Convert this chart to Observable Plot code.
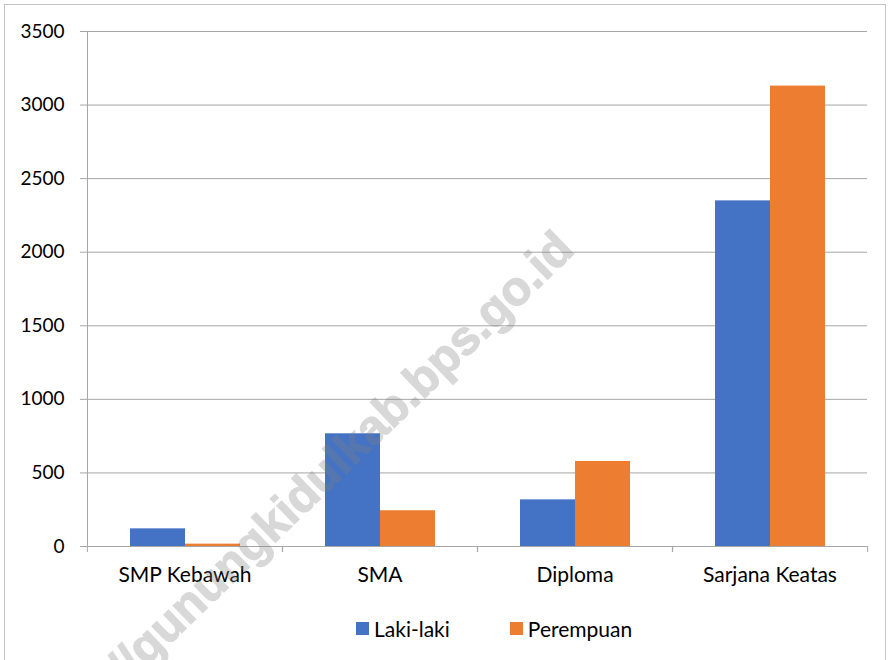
<!DOCTYPE html>
<html>
<head>
<meta charset="utf-8">
<script src="https://cdn.jsdelivr.net/npm/d3@7"></script>
<script src="https://cdn.jsdelivr.net/npm/@observablehq/plot@0.6"></script>
<style>
html, body { margin: 0; padding: 0; background: #fff; }
#wrap { position: relative; width: 890px; height: 660px; overflow: hidden; font-family: Lato, "Open Sans", sans-serif; }
#border { position: absolute; left: 4px; top: 4px; width: 882px; height: 670px; border: 1px solid #c4c4c4; box-sizing: border-box; }
#chart { position: absolute; left: 0; top: 0; }
#legend { position: absolute; left: 356px; top: 612px; }
#wm { position: absolute; left: 0; top: 0; pointer-events: none; }
.lg-swatches { font-family: Lato, "Open Sans", sans-serif; font-size: 21px; color: #000; margin: 0; }
.lg-swatch { margin-right: 60px; }
.lg-swatch > svg { margin-right: 5px; }
</style>
</head>
<body>
<div id="wrap">
  <div id="border"></div>
  <div id="chart"></div>
  <div id="legend"></div>
</div>
<script>
const categories = ["SMP Kebawah", "SMA", "Diploma", "Sarjana Keatas"];
const seriesNames = ["Laki-laki", "Perempuan"];
const lakiLaki = [120, 766, 317, 2349];
const perempuan = [16, 243, 578, 3129];
const yTicks = [0, 500, 1000, 1500, 2000, 2500, 3000, 3500];
const colors = ["#4472C4", "#ED7D31"];
const watermark = "http://gunungkidulkab.bps.go.id";

const rows = categories.flatMap((c, i) => [
  {category: c, series: seriesNames[0], value: lakiLaki[i]},
  {category: c, series: seriesNames[1], value: perempuan[i]}
]);

const W = 890, H = 600, ML = 86, MR = 23;
const half = (W - ML - MR) / categories.length / 2;
const grey = "#a6a6a6";

const chart = Plot.plot({
  width: W,
  height: H,
  marginLeft: ML,
  marginRight: MR,
  marginTop: 31,
  marginBottom: 54,
  style: {fontFamily: "Lato, 'Open Sans', sans-serif", fontSize: "21px", color: "#000", background: "transparent"},
  fx: {domain: categories, padding: 0, label: null},
  x: {domain: seriesNames, paddingInner: 0, paddingOuter: 0.75, axis: null},
  y: {domain: [0, 3500], label: null},
  color: {domain: seriesNames, range: colors},
  marks: [
    Plot.gridY(yTicks, {stroke: grey, strokeOpacity: 1}),
    Plot.barY(rows, {fx: "category", x: "series", y: "value", fill: "series"}),
    Plot.axisY(yTicks, {tickSize: 7, tickPadding: 16, stroke: grey, label: null, tickFormat: d => String(d), fontSize: 19}),
    Plot.axisFx({anchor: "bottom", tickSize: 0, tickPadding: 21, label: null}),
    Plot.axisFx({anchor: "bottom", tickSize: 6, tickFormat: () => "", dx: half, stroke: grey, label: null}),
    Plot.axisFx({anchor: "bottom", tickSize: 6, tickFormat: () => "", dx: -half, stroke: grey, label: null}),
    Plot.frame({anchor: "left", facet: "super", stroke: grey})
  ]
});
document.getElementById("chart").appendChild(chart);

const legend = Plot.legend({
  legend: "swatches",
  color: {domain: seriesNames, range: colors},
  swatchSize: 13,
  className: "lg"
});
document.getElementById("legend").appendChild(legend);

// watermark overlay
const wx = 576, wy = 252;
const svg = d3.select("#wrap").append("svg")
  .attr("id", "wm").attr("width", 890).attr("height", 660);
svg.append("text")
  .attr("x", wx).attr("y", wy)
  .attr("text-anchor", "end")
  .attr("transform", `rotate(-44 ${wx} ${wy})`)
  .attr("font-family", "'Liberation Sans', Arial, sans-serif")
  .attr("font-weight", "bold")
  .attr("font-size", 48)
  .attr("fill", "#808080")
  .attr("stroke", "#808080")
  .attr("stroke-width", 1.2)
  .attr("opacity", 0.3)
  .text(watermark);
</script>
</body>
</html>
